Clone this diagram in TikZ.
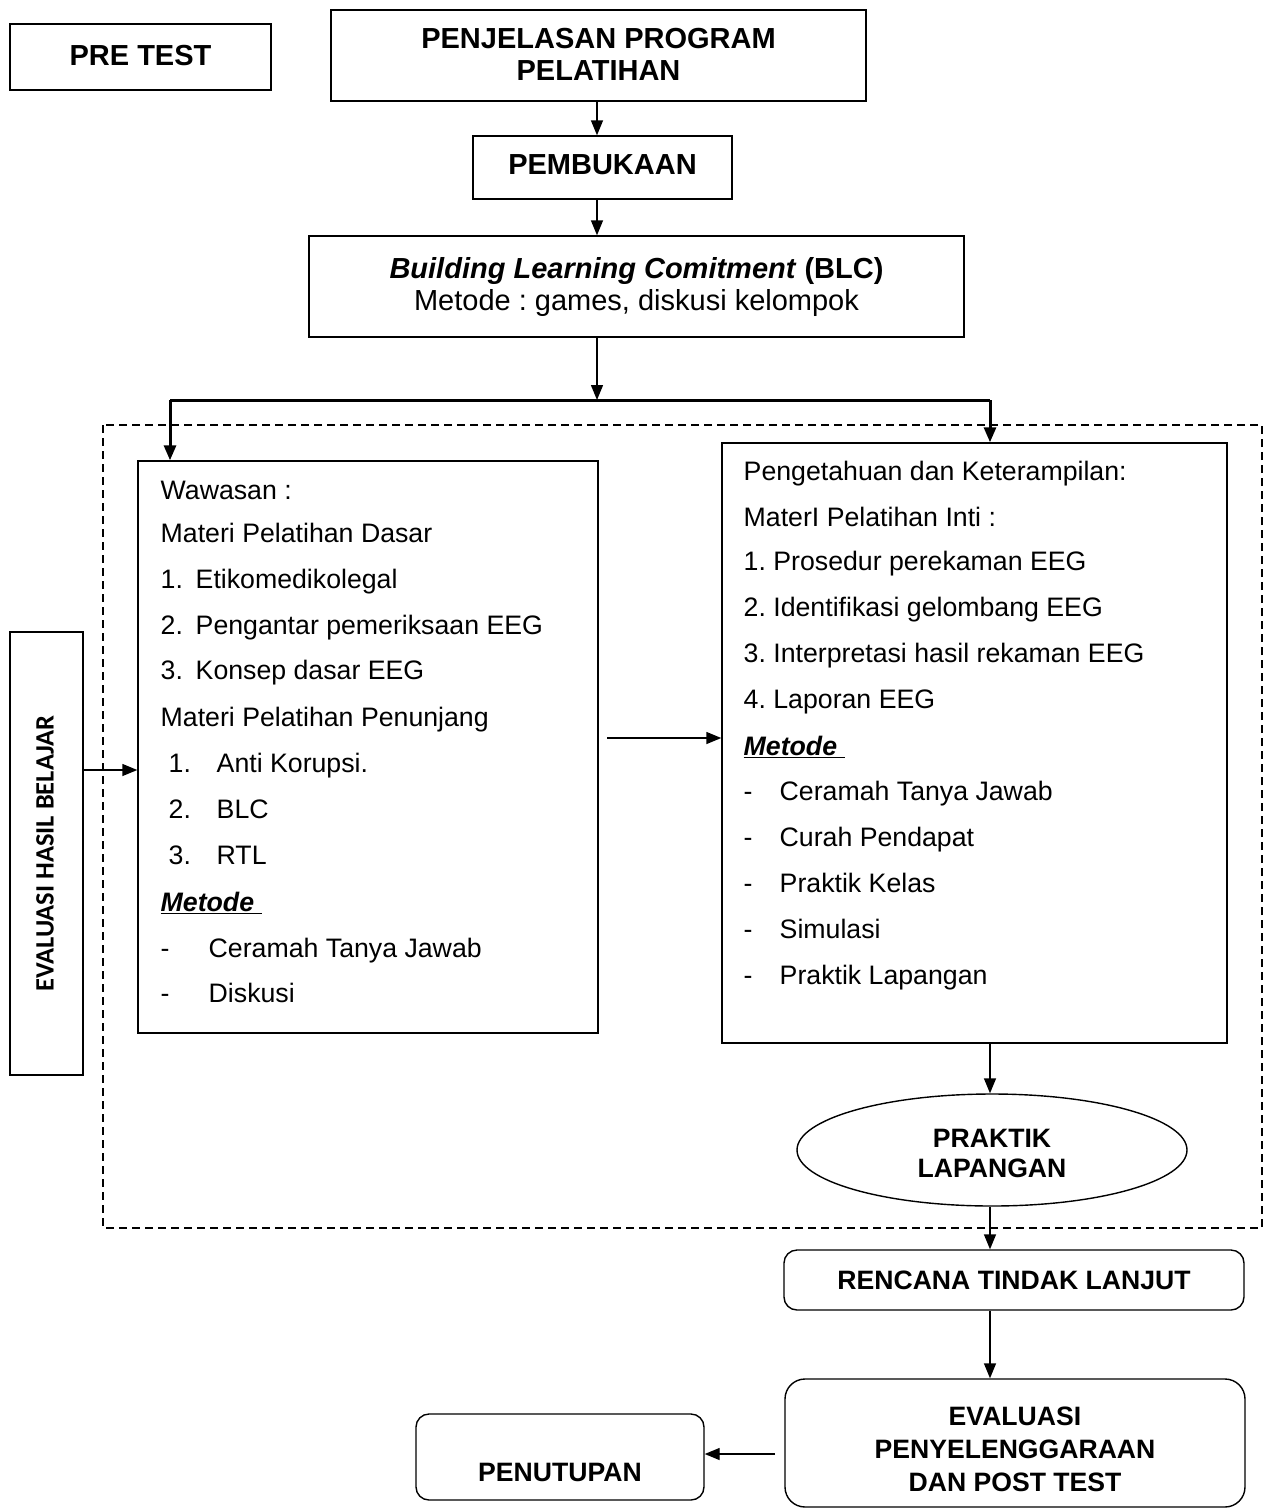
\documentclass[tikz,border=0pt]{standalone}
\usepackage{fontspec}
\setmainfont{Liberation Sans}
\newfontfamily\calib{Carlito}
\usetikzlibrary{arrows.meta,shapes.geometric,calc}
\frenchspacing
\begin{document}
\begin{tikzpicture}[x=1pt,y=-1pt,line width=1.4pt,
  box/.style={draw,rectangle,inner sep=0pt},
  rbox/.style={draw,rectangle,rounded corners=13pt,inner sep=0pt},
  arr/.style={-{Triangle[length=15pt,width=12pt]},line width=1.4pt},
  thk/.style={line width=3pt},
  big/.style={font=\fontsize{29}{32}\selectfont\bfseries,align=center},
  mid/.style={font=\fontsize{26.6}{30}\selectfont\bfseries,align=center},
  txt/.style={font=\fontsize{26.7}{30}\selectfont,anchor=base west,inner sep=0pt},
]
\useasboundingbox (0,0) rectangle (1265,1508);
\fill[white] (0,0) rectangle (1265,1508);

% top boxes
\node[box,big,minimum width=261pt,minimum height=66pt] (pre) at (140.5,57) {\raisebox{4pt}{PRE TEST}};
\node[box,big,minimum width=535pt,minimum height=91pt] (penj) at (598.5,55.5) {\raisebox{2pt}{PENJELASAN PROGRAM}\\\raisebox{2pt}{PELATIHAN}};
\node[box,big,minimum width=259pt,minimum height=63pt] (buka) at (602.5,167.5) {\raisebox{5pt}{PEMBUKAAN}};
\node[box,minimum width=655pt,minimum height=101pt,align=center,font=\fontsize{29}{32}\selectfont] (blc) at (636.5,286.5) {\raisebox{3pt}{\textbf{\textit{Building Learning Comitment}} \textbf{(BLC)}}\\\raisebox{3pt}{Metode : games, diskusi kelompok}};

\draw[arr] (penj.south -| 597,0) -- (buka.north -| 597,0);
\draw[arr] (buka.south -| 597,0) -- (blc.north -| 597,0);

% branch
\coordinate (jn) at (597,400);
\coordinate (jl) at (170,400);
\coordinate (jr) at (990,400);
\draw[arr] (blc.south -| 597,0) -- (jn);
\draw[thk] (jl) -- (jr);

% dashed area
\draw[dash pattern=on 8pt off 5pt,line width=1.5pt] (103,425) rectangle (1262,1228);

% left box
\node[box,minimum width=460pt,minimum height=572pt] (lbox) at (368,747) {};
\node[txt] (l1) at (160,499.5) {Wawasan :};
\node[txt] (l2) at (160,542.5) {Materi Pelatihan Dasar};
\node[txt] (l3a) at (160,588.5) {1.};
\node[txt] (l3) at (195,588.5) {Etikomedikolegal};
\node[txt] (l4a) at (160,634.5) {2.};
\node[txt] (l4) at (195,634.5) {Pengantar pemeriksaan EEG};
\node[txt] (l5a) at (160,679.5) {3.};
\node[txt] (l5) at (195,679.5) {Konsep dasar EEG};
\node[txt] (l6) at (160,726.5) {Materi Pelatihan Penunjang};
\node[txt] (l7a) at (168,772.5) {1.};
\node[txt] (l7) at (216,772.5) {Anti Korupsi.};
\node[txt] (l8a) at (168,818.5) {2.};
\node[txt] (l8) at (216,818.5) {BLC};
\node[txt] (l9a) at (168,864.5) {3.};
\node[txt] (l9) at (216,864.5) {RTL};
\node[txt] (l10) at (160,911.5) {\underline{\textbf{\textit{Metode\ }}}};
\node[txt] (l11a) at (160,957.5) {-};
\node[txt] (l11) at (208,957.5) {Ceramah Tanya Jawab};
\node[txt] (l12a) at (160,1002.5) {-};
\node[txt] (l12) at (208,1002.5) {Diskusi};

% right box
\node[box,minimum width=505pt,minimum height=600pt] (rbox) at (974.5,743) {};
\node[txt] (r1) at (743,480.5) {Pengetahuan dan Keterampilan:};
\node[txt] (r2) at (743,526.5) {MaterI Pelatihan Inti :};
\node[txt] (r3) at (743,570.5) {1. Prosedur perekaman EEG};
\node[txt] (r4) at (743,616.5) {2. Identifikasi gelombang EEG};
\node[txt] (r5) at (743,662.5) {3. Interpretasi hasil rekaman EEG};
\node[txt] (r6) at (743,708.5) {4. Laporan EEG};
\node[txt] (r7) at (743,755.5) {\underline{\textbf{\textit{Metode\ }}}};
\node[txt] (r8a) at (743,800.5) {-};
\node[txt] (r8) at (779,800.5) {Ceramah Tanya Jawab};
\node[txt] (r9a) at (743,846.5) {-};
\node[txt] (r9) at (779,846.5) {Curah Pendapat};
\node[txt] (r10a) at (743,892.5) {-};
\node[txt] (r10) at (779,892.5) {Praktik Kelas};
\node[txt] (r11a) at (743,938.5) {-};
\node[txt] (r11) at (779,938.5) {Simulasi};
\node[txt] (r12a) at (743,984.5) {-};
\node[txt] (r12) at (779,984.5) {Praktik Lapangan};

\draw[thk,-{Triangle[length=15pt,width=12pt]}] (jl) -- (lbox.north -| jl);
\draw[thk,-{Triangle[length=15pt,width=12pt]}] (jr) -- (rbox.north -| jr);

% evaluasi hasil belajar
\node[box,minimum width=73pt,minimum height=443pt] (evh) at (46.5,853.5) {};
\node[rotate=90,inner sep=0pt,font=\calib\fontsize{26.5}{30}\selectfont\bfseries] (evht) at (45,853.5) {EVALUASI HASIL BELAJAR};
\draw[arr] (evh.east |- 0,770) -- (lbox.west |- 0,770);
\draw[arr] (607,738) -- (rbox.west |- 0,738);

% praktik lapangan
\node[draw,ellipse,minimum width=390pt,minimum height=112pt,inner sep=0pt] (prak) at (992,1150) {};
\node[mid,inner sep=0pt] (prakt) at (992,1153) {PRAKTIK\\LAPANGAN};
\draw[arr] (rbox.south -| 990,0) -- (prak.north -| 990,0);

% lower boxes
\node[rbox,mid,minimum width=460pt,minimum height=60pt] (rtl) at (1014,1280) {RENCANA TINDAK LANJUT};
\draw[arr] (prak.south -| 990,0) -- (rtl.north -| 990,0);
\node[draw,rectangle,rounded corners=20pt,minimum width=460pt,minimum height=128pt] (evp) at (1015,1443) {};
\node[mid,inner sep=0pt,font=\fontsize{26.6}{33}\selectfont\bfseries] (evpt) at (1015,1449) {EVALUASI\\PENYELENGGARAAN\\DAN POST TEST};
\draw[arr] (rtl.south -| 990,0) -- (evp.north -| 990,0);
\node[rbox,minimum width=288pt,minimum height=86pt] (tutup) at (560,1457) {};
\node[mid,inner sep=0pt] (tutupt) at (560,1472) {PENUTUPAN};
\draw[arr] (775,1454) -- (tutup.east |- 0,1454);
\end{tikzpicture}
\end{document}
